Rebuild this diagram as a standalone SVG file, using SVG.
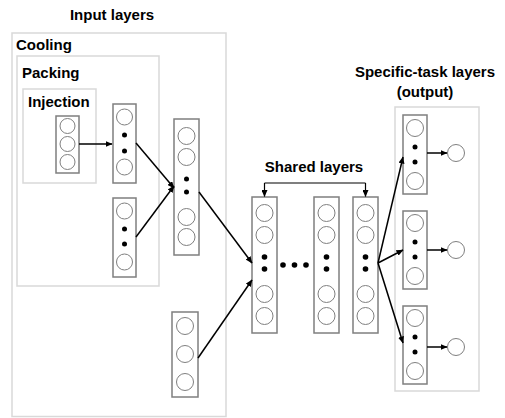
<svg xmlns="http://www.w3.org/2000/svg" width="505" height="418" viewBox="0 0 505 418">
<defs>
<marker id="ah" markerWidth="7" markerHeight="6" refX="6.5" refY="3" orient="auto" markerUnits="userSpaceOnUse">
<path d="M0,0 L7,3 L0,6 z" fill="#000"/>
</marker>
<style>
.box{fill:none;stroke:#d9d9d9;stroke-width:1.5}
.lay{fill:#fff;stroke:#7f7f7f;stroke-width:1.5}
.n{fill:#fff;stroke:#7f7f7f;stroke-width:1}
.d{fill:#000}
.c{fill:none;stroke:#000;stroke-width:1.5;marker-end:url(#ah)}
.t{font-family:"Liberation Sans",Arial,sans-serif;font-weight:bold;font-size:15px;fill:#000}
.m{text-anchor:middle}
</style>
</defs>
<rect width="505" height="418" fill="#fff"/>
<g id="groups">
<rect class="box" x="12" y="33" width="214" height="383.5"/>
<rect class="box" x="17" y="56" width="142" height="230"/>
<rect class="box" x="23" y="89" width="73" height="94"/>
<rect class="box" x="395" y="107" width="84" height="284"/>
</g>
<g id="labels">
<text class="t m" x="112" y="20">Input layers</text>
<text class="t" x="16" y="50">Cooling</text>
<text class="t" x="22" y="78">Packing</text>
<text class="t" x="28" y="107">Injection</text>
<text class="t m" x="314" y="172">Shared layers</text>
<text class="t m" x="425" y="77">Specific-task layers</text>
<text class="t m" x="425" y="97">(output)</text>
</g>
<g id="injection-layer">
<rect class="lay" x="56" y="116" width="23" height="57"/>
<circle class="n" cx="67.5" cy="126" r="7.5"/>
<circle class="n" cx="67.5" cy="144" r="7.5"/>
<circle class="n" cx="67.5" cy="162" r="7.5"/>
</g>
<g id="packing-layer-1">
<rect class="lay" x="113" y="104" width="23" height="79"/>
<circle class="n" cx="124.5" cy="117" r="8"/>
<circle class="d" cx="124.5" cy="135" r="2.5"/>
<circle class="d" cx="124.5" cy="151" r="2.5"/>
<circle class="n" cx="124.5" cy="167" r="8"/>
</g>
<g id="packing-layer-2">
<rect class="lay" x="113" y="198" width="23" height="79"/>
<circle class="n" cx="124.5" cy="211" r="8"/>
<circle class="d" cx="124.5" cy="229" r="2.5"/>
<circle class="d" cx="124.5" cy="244" r="2.5"/>
<circle class="n" cx="124.5" cy="262" r="8"/>
</g>
<g id="cooling-layer-1">
<rect class="lay" x="174" y="119" width="25" height="136"/>
<circle class="n" cx="186.5" cy="136" r="8.5"/>
<circle class="n" cx="186.5" cy="157" r="8.5"/>
<circle class="d" cx="186.5" cy="179" r="2.5"/>
<circle class="d" cx="186.5" cy="192" r="2.5"/>
<circle class="n" cx="186.5" cy="217" r="8.5"/>
<circle class="n" cx="186.5" cy="237" r="8.5"/>
</g>
<g id="cooling-layer-2">
<rect class="lay" x="172" y="312" width="26" height="85"/>
<circle class="n" cx="185" cy="326" r="8.5"/>
<circle class="n" cx="185" cy="354" r="8.5"/>
<circle class="n" cx="185" cy="382" r="8.5"/>
</g>
<g id="shared-layer-1">
<rect class="lay" x="252" y="197" width="25" height="136"/>
<circle class="n" cx="264.5" cy="213" r="8.5"/>
<circle class="n" cx="264.5" cy="235" r="8.5"/>
<circle class="d" cx="264.5" cy="257" r="2.8"/>
<circle class="d" cx="264.5" cy="269" r="2.8"/>
<circle class="n" cx="264.5" cy="294" r="8.5"/>
<circle class="n" cx="264.5" cy="316" r="8.5"/>
</g>
<g id="shared-ellipsis">
<circle class="d" cx="283" cy="265" r="2.8"/>
<circle class="d" cx="294.5" cy="265" r="2.8"/>
<circle class="d" cx="306" cy="265" r="2.8"/>
</g>
<g id="shared-layer-2">
<rect class="lay" x="314" y="197" width="25" height="136"/>
<circle class="n" cx="326.5" cy="213" r="8.5"/>
<circle class="n" cx="326.5" cy="235" r="8.5"/>
<circle class="d" cx="326.5" cy="257" r="2.8"/>
<circle class="d" cx="326.5" cy="269" r="2.8"/>
<circle class="n" cx="326.5" cy="294" r="8.5"/>
<circle class="n" cx="326.5" cy="316" r="8.5"/>
</g>
<g id="shared-layer-3">
<rect class="lay" x="353" y="197" width="25" height="136"/>
<circle class="n" cx="365.5" cy="213" r="8.5"/>
<circle class="n" cx="365.5" cy="235" r="8.5"/>
<circle class="d" cx="365.5" cy="257" r="2.8"/>
<circle class="d" cx="365.5" cy="269" r="2.8"/>
<circle class="n" cx="365.5" cy="294" r="8.5"/>
<circle class="n" cx="365.5" cy="316" r="8.5"/>
</g>
<g id="task-layer-1">
<rect class="lay" x="403" y="115" width="24" height="79"/>
<circle class="n" cx="415" cy="128" r="8.5"/>
<circle class="d" cx="415" cy="147" r="2.5"/>
<circle class="d" cx="415" cy="162" r="2.5"/>
<circle class="n" cx="415" cy="181" r="8.5"/>
</g>
<g id="task-layer-2">
<rect class="lay" x="403" y="211" width="24" height="78"/>
<circle class="n" cx="415" cy="223" r="8.5"/>
<circle class="d" cx="415" cy="242" r="2.5"/>
<circle class="d" cx="415" cy="257" r="2.5"/>
<circle class="n" cx="415" cy="276" r="8.5"/>
</g>
<g id="task-layer-3">
<rect class="lay" x="403" y="306" width="24" height="78"/>
<circle class="n" cx="415" cy="318" r="8.5"/>
<circle class="d" cx="415" cy="337" r="2.5"/>
<circle class="d" cx="415" cy="352" r="2.5"/>
<circle class="n" cx="415" cy="371" r="8.5"/>
</g>
<g id="output-1"><circle class="n" cx="456" cy="153" r="8.5"/></g>
<g id="output-2"><circle class="n" cx="456" cy="250" r="8.5"/></g>
<g id="output-3"><circle class="n" cx="456" cy="347" r="8.5"/></g>
<g id="connectors">
<line class="c" x1="79" y1="144" x2="112" y2="144"/>
<line class="c" x1="136" y1="143" x2="174" y2="188"/>
<line class="c" x1="136" y1="237" x2="174" y2="186"/>
<line class="c" x1="199" y1="192" x2="252" y2="263"/>
<line class="c" x1="198" y1="358" x2="252" y2="280"/>
<path d="M264.5,183 H365.5" fill="none" stroke="#000" stroke-width="1.2"/>
<line class="c" x1="264.5" y1="183" x2="264.5" y2="196.5" style="stroke-width:1.2"/>
<line class="c" x1="365.5" y1="183" x2="365.5" y2="196.5" style="stroke-width:1.2"/>
<line class="c" x1="378" y1="263" x2="403" y2="157"/>
<line class="c" x1="378" y1="263" x2="403" y2="250"/>
<line class="c" x1="378" y1="263" x2="403" y2="343"/>
<line class="c" x1="427" y1="153" x2="447" y2="153"/>
<line class="c" x1="427" y1="250" x2="447" y2="250"/>
<line class="c" x1="427" y1="347" x2="447" y2="347"/>
</g>
</svg>
